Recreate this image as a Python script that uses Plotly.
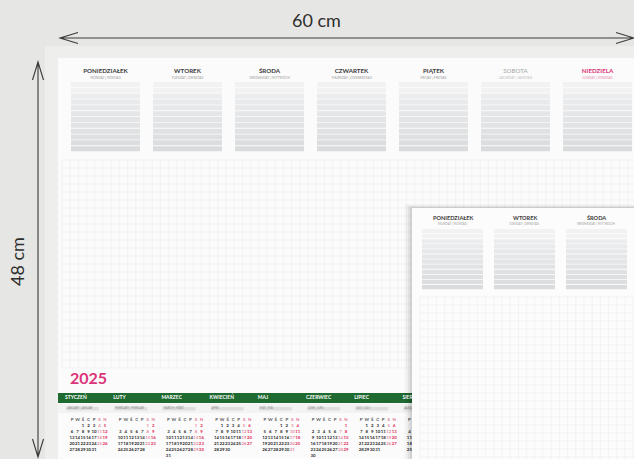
import plotly.graph_objects as go

# ---------------- data ----------------
width_label = "60 cm"
height_label = "48 cm"
year_label = "2025"

day_names = ["PONIEDZIAŁEK", "WTOREK", "ŚRODA", "CZWARTEK", "PIĄTEK", "SOBOTA", "NIEDZIELA"]
day_subs = ["MONDAY | MONTAG", "TUESDAY | DIENSTAG", "WEDNESDAY | MITTWOCH", "THURSDAY | DONNERSTAG",
            "FRIDAY | FREITAG", "SATURDAY | SAMSTAG", "SUNDAY | SONNTAG"]
front_days = ["PONIEDZIAŁEK", "WTOREK", "ŚRODA"]
front_subs = ["MONDAY | MONTAG", "TUESDAY | DIENSTAG", "WEDNESDAY | MITTWOCH"]

months = ["STYCZEŃ", "LUTY", "MARZEC", "KWIECIEŃ", "MAJ", "CZERWIEC", "LIPIEC", "SIERPIEŃ"]
month_subs = ["JANUARY | JANUAR", "FEBRUARY | FEBRUAR", "MARCH | MÄRZ", "APRIL", "MAY | MAI",
              "JUNE | JUNI", "JULY | JULI", "AUGUST"]
month_first_weekday = [2, 5, 5, 1, 3, 6, 1, 4]   # 0 = Monday
month_days = [31, 28, 31, 30, 31, 30, 31, 31]
week_letters = ["P", "W", "Ś", "C", "P", "S", "N"]

# ---------------- layout / style ----------------
W, H = 634, 459
BG = "#e6e6e4"
PAPER = "#fbfbfb"
PINK = "#dc3379"
GREEN = "#1f6a31"
DARK = "#3a3a3a"
FONT = "Lato"

shapes = []
annotations = []
traces = []


def rect(x0, y0, x1, y1, fill, layer="below", line=None):
    d = dict(type="rect", xref="x", yref="y", x0=x0, y0=y0, x1=x1, y1=y1,
             fillcolor=fill, layer=layer, line=dict(width=0))
    if line:
        d["line"] = line
    shapes.append(d)


def grid_path(xa, xb, ya, yb, step_x, step_y):
    parts = []
    x = xa
    while x <= xb + 0.01:
        parts.append(f"M{x:.1f},{ya} L{x:.1f},{yb}")
        x += step_x
    y = ya
    while y <= yb + 0.01:
        parts.append(f"M{xa},{y:.1f} L{xb},{y:.1f}")
        y += step_y
    return " ".join(parts)


def lerp_col(c0, c1, t):
    a = [int(c0[i:i + 2], 16) for i in (1, 3, 5)]
    b = [int(c1[i:i + 2], 16) for i in (1, 3, 5)]
    return "#" + "".join(f"{int(round(a[k] + (b[k] - a[k]) * t)):02x}" for k in range(3))


def lined_box(x0, y0, w, h, layer, n=12):
    sh = h / n
    for k in range(n):
        if k < 2:
            col = "#f2f2f2"
        else:
            col = lerp_col("#ebecee", "#d9dbdd", (k - 2) / (n - 3))
        rect(x0, y0 + k * sh, x0 + w, y0 + (k + 1) * sh - 0.8, col, layer)


# main sheet border + sheet
rect(45, 46, 640, 470, "#eeeeed")
rect(58, 58, 640, 470, PAPER)

# main grid
shapes.append(dict(type="path", xref="x", yref="y", layer="below",
                   path=grid_path(62, 634, 160, 368, 8.2, 8.0),
                   line=dict(color="#efefef", width=0.7)))
rect(62, 372, 640, 392, PAPER)

# day columns (main sheet)
col_x0, col_step, col_w = 71, 82, 69
box_y0, box_h = 82, 70
hdr_x = []
for i, name in enumerate(day_names):
    x0 = col_x0 + i * col_step
    lined_box(x0, box_y0, col_w, box_h, "below")
    hdr_x.append(x0 + col_w / 2)
name_colors = [DARK, DARK, DARK, DARK, DARK, "#a5a5a5", PINK]
sub_colors = ["#9c9c9c"] * 5 + ["#bdbdbd", "#e58db0"]
for i in range(len(day_names)):
    traces.append(go.Scatter(x=[hdr_x[i]], y=[71], mode="text", text=[day_names[i]],
                             textfont=dict(family=FONT, size=6.2, color=name_colors[i],
                                           weight="normal" if i == 5 else "bold"),
                             hoverinfo="skip", showlegend=False))
    traces.append(go.Scatter(x=[hdr_x[i]], y=[78.5], mode="text", text=[day_subs[i]],
                             textfont=dict(family=FONT, size=3.2, color=sub_colors[i]),
                             hoverinfo="skip", showlegend=False))

# year + month bands
traces.append(go.Scatter(x=[70], y=[380], mode="text", text=[year_label], textposition="middle right",
                         textfont=dict(family=FONT, size=16, color=PINK, weight="bold"),
                         hoverinfo="skip", showlegend=False))
rect(58, 393, 640, 403, GREEN)
rect(58, 404, 640, 413, "#f3f3f3")
mx0, mstep, dstep, rstep = 65, 48.2, 5.5, 6.0
for m, mname in enumerate(months):
    mx = mx0 + m * mstep
    traces.append(go.Scatter(x=[mx], y=[398], mode="text", text=[mname], textposition="middle right",
                             textfont=dict(family=FONT, size=5, color="white", weight="bold"),
                             hoverinfo="skip", showlegend=False))
    rect(mx + 1, 407, mx + 34, 410.5, "#dedede")
    traces.append(go.Scatter(x=[mx + 2], y=[408.8], mode="text", text=[month_subs[m]],
                             textposition="middle right",
                             textfont=dict(family=FONT, size=2.8, color="#8a8a8a"),
                             hoverinfo="skip", showlegend=False))
    xs, ys, ts, cs = [], [], [], []
    for j, wl in enumerate(week_letters):
        xs.append(mx + 7 + j * dstep); ys.append(420); ts.append(wl)
        cs.append("#e07a98" if j >= 5 else "#555555")
    for d in range(1, month_days[m] + 1):
        pos = month_first_weekday[m] + d - 1
        r, c = divmod(pos, 7)
        xs.append(mx + 7 + c * dstep); ys.append(426 + r * rstep); ts.append(str(d))
        cs.append("#e0305a" if c == 6 else ("#e58aa2" if c == 5 else "#2e2e2e"))
    traces.append(go.Scatter(x=xs, y=ys, mode="text", text=ts,
                             textfont=dict(family=FONT, size=4.4, color=cs, weight="bold"),
                             hoverinfo="skip", showlegend=False))

# ---------------- second (front) sheet ----------------
for k, a in enumerate([0.02, 0.03, 0.05, 0.07]):
    off = 8 - 2 * k
    rect(412 - off, 208 - off / 2, 640, 470, f"rgba(0,0,0,{a})", "above")
rect(412, 208, 640, 470, "#fcfcfc", "above")
shapes.append(dict(type="path", xref="x", yref="y", layer="above",
                   path=grid_path(420, 634, 297, 459, 8.2, 8.0),
                   line=dict(color="#efefef", width=0.7)))
f_x0, f_step, f_w = 422, 72, 61
for i, name in enumerate(front_days):
    x0 = f_x0 + i * f_step
    lined_box(x0, 229, f_w, 61, "above")
    annotations.append(dict(x=x0 + f_w / 2, y=217, xref="x", yref="y", text=f"<b>{name}</b>",
                            showarrow=False, font=dict(family=FONT, size=5.6, color=DARK)))
    annotations.append(dict(x=x0 + f_w / 2, y=224, xref="x", yref="y", text=front_subs[i],
                            showarrow=False, font=dict(family=FONT, size=3, color="#9c9c9c")))

# ---------------- dimension arrows ----------------
ARROW = "#3a3a3a"
shapes.append(dict(type="path", xref="x", yref="y", layer="above",
                   path="M60,38 L640,38 M78,32.5 L60,38 L78,43.5 M616,32.5 L634,38 L616,43.5",
                   line=dict(color=ARROW, width=1.1)))
shapes.append(dict(type="path", xref="x", yref="y", layer="above",
                   path="M38,62 L38,457 M32.5,80 L38,62 L43.5,80 M32.5,439 L38,457 L43.5,439",
                   line=dict(color=ARROW, width=1.1)))
annotations.append(dict(x=316, y=20, xref="x", yref="y", text=width_label, showarrow=False,
                        font=dict(family=FONT, size=18, color="#2e2e2e")))
annotations.append(dict(x=17, y=262, xref="x", yref="y", text=height_label, showarrow=False,
                        textangle=-90, font=dict(family=FONT, size=18, color="#2e2e2e")))

fig = go.Figure(data=traces)
fig.update_layout(
    width=W, height=H, autosize=False,
    margin=dict(l=0, r=0, t=0, b=0),
    paper_bgcolor=BG, plot_bgcolor=BG,
    shapes=shapes, annotations=annotations,
    xaxis=dict(range=[0, W], visible=False, fixedrange=True),
    yaxis=dict(range=[H, 0], visible=False, fixedrange=True),
    showlegend=False,
)
fig.write_html("out.html", config=dict(displayModeBar=False),
               post_script="document.body.style.margin='0';document.body.style.overflow='hidden';")
